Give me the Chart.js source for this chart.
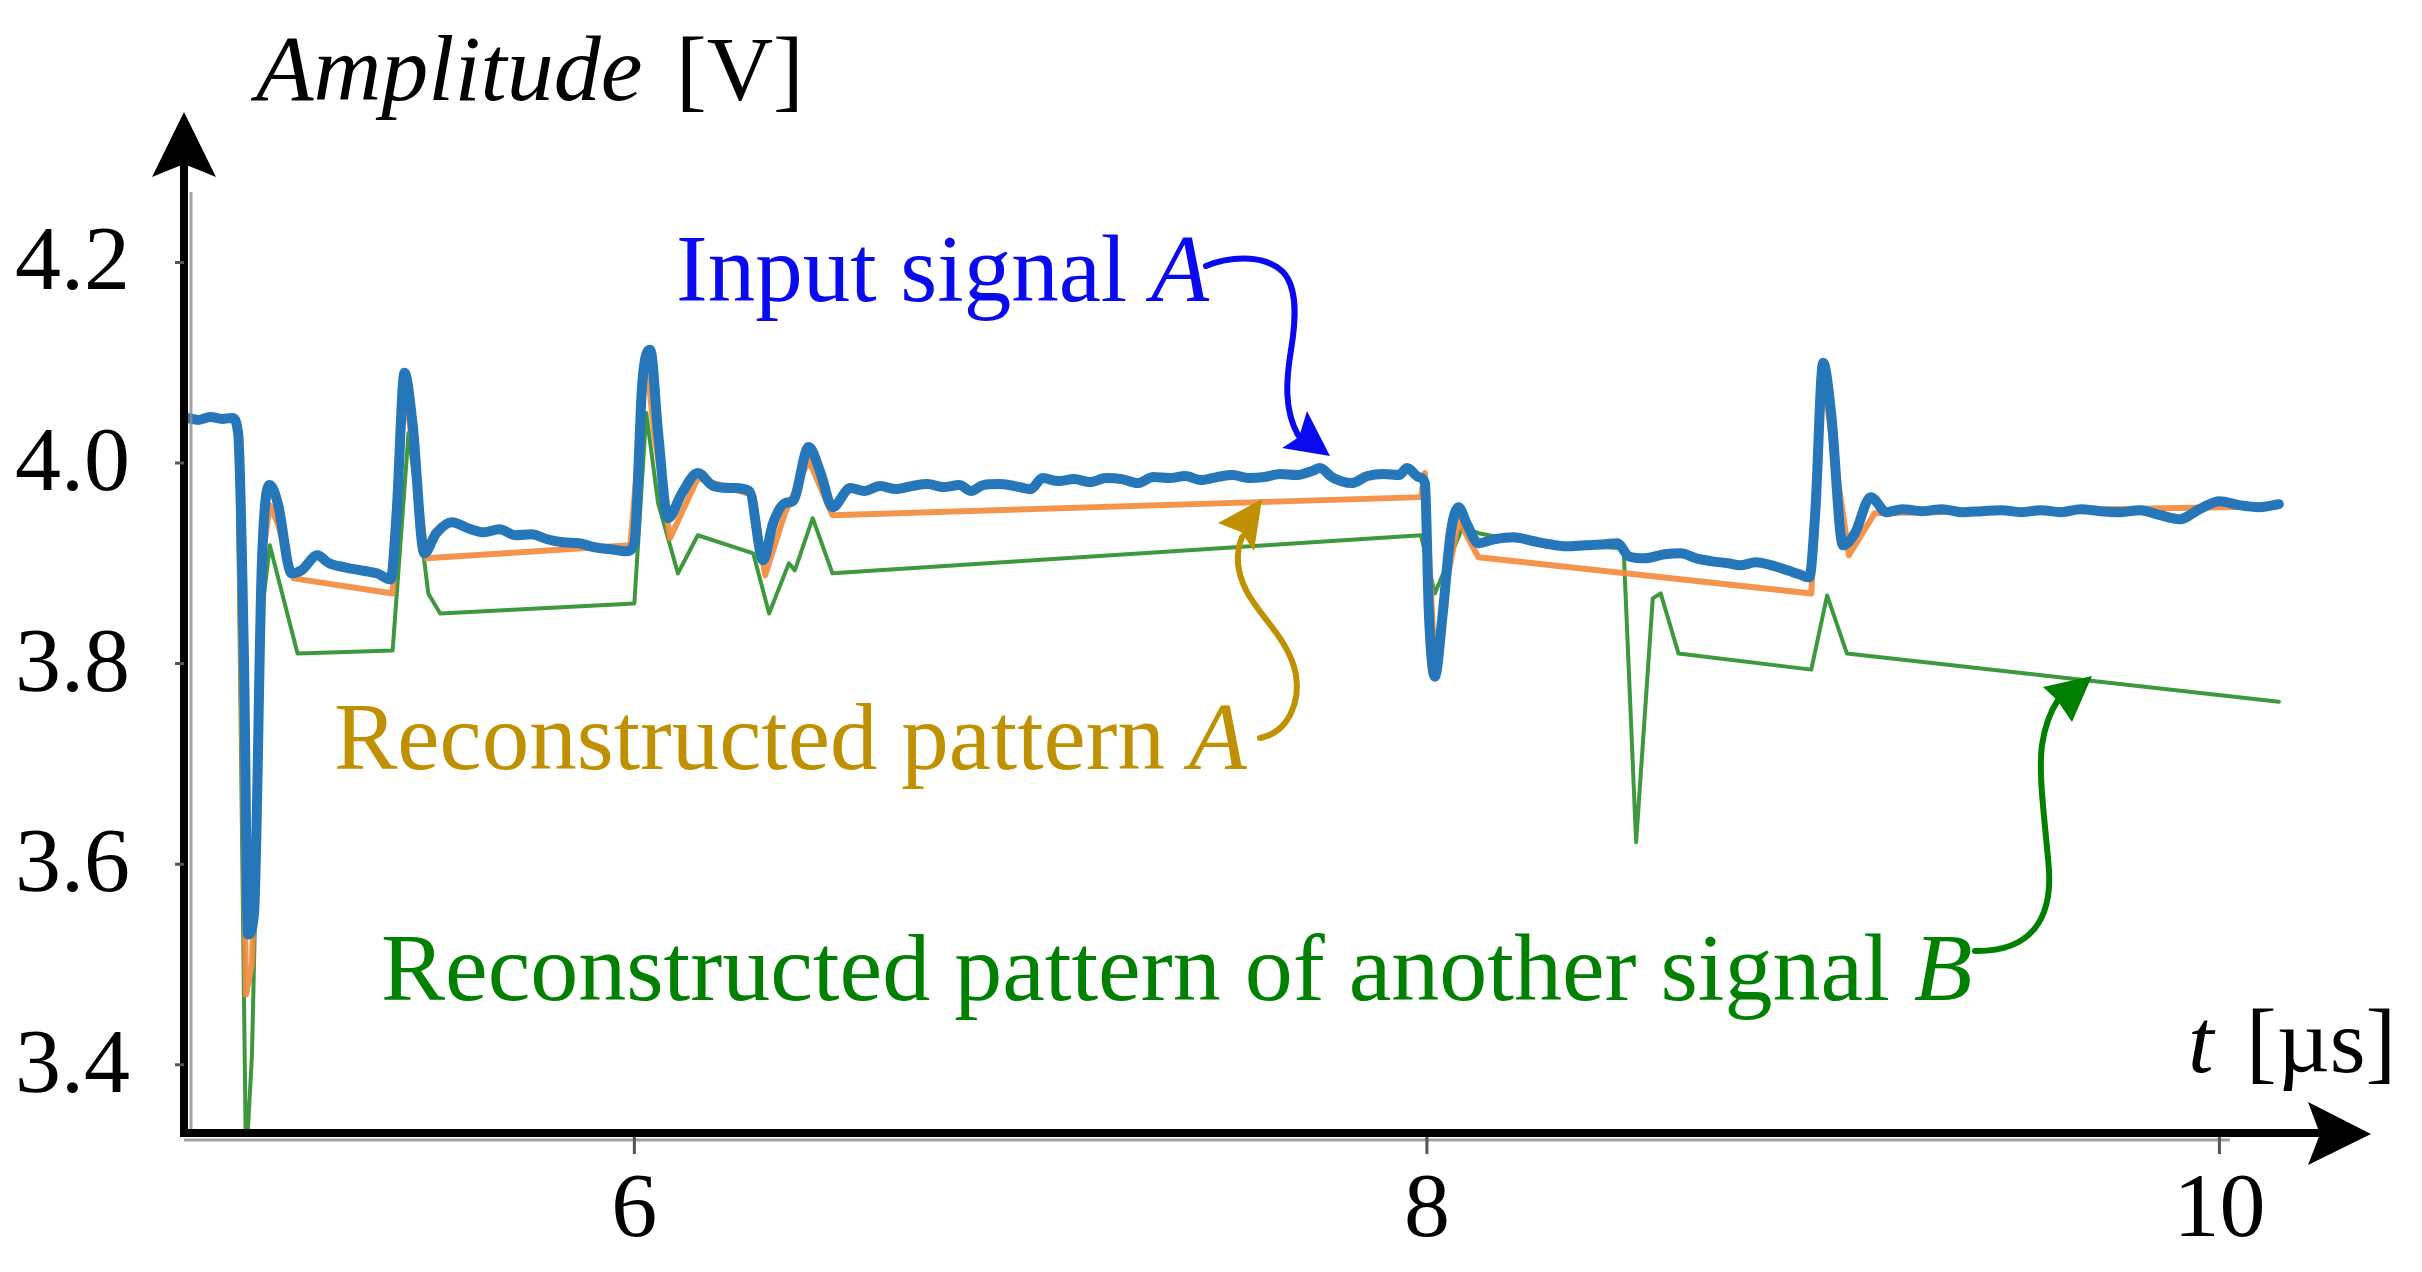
<!DOCTYPE html>
<html>
<head>
<meta charset="utf-8">
<script src="https://cdn.jsdelivr.net/npm/chart.js@4/dist/chart.umd.min.js"></script>
<style>
  html,body{margin:0;padding:0;background:#fff;}
  #wrap{width:2422px;height:1272px;}
</style>
</head>
<body>
<div id="wrap"><canvas id="chart" width="2422" height="1272"></canvas></div>
<script>
// === Datos (t en µs, amplitud en V) ===
const inputT = [4.87,4.90,4.93,4.96,4.985,5.00,5.015,5.025,5.04,5.06,5.08,5.10,5.135,5.16,5.20,5.23,5.27,5.31,5.35,5.385,
  5.40,5.42,5.44,5.47,5.50,5.54,5.58,5.62,5.66,5.70,5.74,5.78,5.82,5.86,5.90,5.94,5.98,6.00,6.02,6.04,
  6.06,6.085,6.12,6.16,6.20,6.25,6.29,6.325,6.35,6.38,6.40,6.44,6.47,6.50,6.545,6.58,6.62,6.66,6.70,6.74,
  6.78,6.82,6.85,6.88,6.92,6.96,7.00,7.03,7.07,7.11,7.15,7.19,7.23,7.27,7.31,7.35,7.39,7.43,7.47,7.51,
  7.55,7.59,7.63,7.67,7.71,7.73,7.76,7.81,7.85,7.89,7.93,7.95,7.98,7.995,8.005,8.02,8.04,8.06,8.08,8.10,
  8.13,8.17,8.22,8.27,8.31,8.35,8.40,8.45,8.48,8.51,8.55,8.60,8.64,8.68,8.72,8.76,8.79,8.83,8.87,8.91,
  8.94,8.965,8.98,9.00,9.02,9.05,9.08,9.12,9.16,9.20,9.25,9.30,9.35,9.40,9.45,9.50,9.55,9.60,9.65,9.70,
  9.75,9.80,9.85,9.90,9.95,10.00,10.05,10.10,10.15];
const inputV = [4.045,4.043,4.046,4.044,4.045,4.03,3.80,3.53,3.55,3.90,3.978,3.96,3.89,3.893,3.908,3.90,3.896,3.893,3.89,3.884,
  3.95,4.09,4.04,3.91,3.93,3.941,3.935,3.931,3.934,3.928,3.929,3.924,3.921,3.920,3.916,3.914,3.912,3.92,4.08,4.113,
  4.03,3.945,3.97,3.99,3.977,3.975,3.972,3.903,3.94,3.96,3.962,4.016,3.99,3.956,3.975,3.972,3.977,3.974,3.977,3.979,
  3.976,3.978,3.972,3.978,3.979,3.977,3.974,3.985,3.982,3.984,3.981,3.985,3.984,3.980,3.986,3.985,3.987,3.983,3.986,3.988,
  3.985,3.986,3.989,3.988,3.992,3.995,3.986,3.980,3.987,3.989,3.988,3.995,3.986,3.98,3.85,3.787,3.85,3.93,3.956,3.94,
  3.92,3.924,3.926,3.922,3.919,3.917,3.918,3.919,3.920,3.907,3.905,3.909,3.910,3.905,3.902,3.90,3.898,3.901,3.898,3.893,
  3.889,3.886,3.95,4.10,4.05,3.918,3.93,3.966,3.951,3.954,3.952,3.954,3.951,3.952,3.953,3.951,3.953,3.951,3.954,3.952,
  3.951,3.953,3.948,3.944,3.954,3.962,3.958,3.956,3.959];

const patternAT = [5.00,5.02,5.035,5.06,5.08,5.10,5.14,5.39,5.42,5.44,5.475,5.99,6.03,6.05,6.09,6.16,6.30,6.33,6.38,6.44,
  6.50,7.985,7.995,8.02,8.04,8.08,8.13,8.97,9.00,9.02,9.065,9.13,10.15];
const patternAV = [4.03,3.47,3.50,3.90,3.958,3.94,3.885,3.870,4.075,4.02,3.905,3.918,4.105,4.03,3.925,3.985,3.968,3.888,3.950,4.003,
  3.948,3.966,3.99,3.795,3.86,3.943,3.906,3.870,4.088,4.03,3.908,3.950,3.957];

const patternBT = [5.00,5.02,5.035,5.06,5.08,5.15,5.39,5.43,5.48,5.51,6.00,6.03,6.06,6.11,6.16,6.30,6.34,6.39,6.405,6.45,
  6.50,7.985,8.02,8.09,8.13,8.22,8.49,8.497,8.528,8.57,8.59,8.635,8.97,9.01,9.06,10.15];
const patternBV = [3.95,3.30,3.41,3.85,3.918,3.81,3.813,4.03,3.87,3.85,3.86,4.05,3.96,3.89,3.928,3.91,3.85,3.90,3.893,3.945,
  3.89,3.928,3.87,3.936,3.93,3.923,3.915,3.91,3.622,3.865,3.87,3.81,3.794,3.868,3.81,3.762];

const yTicks = [3.4,3.6,3.8,4.0,4.2];
const xTicks = [6,8,10];
const xRange = [4.866,10.38];
const yRange = [3.332,4.347];

// === Utilidades ===
function toPoints(ts, vs){
  return ts.map((t,i)=>({x:t, y:vs[i]}));
}

const serif = '"Liberation Serif", "Times New Roman", serif';

function arrowHead(ctx, tip, c1, notch, c2, color){
  ctx.fillStyle = color;
  ctx.beginPath();
  ctx.moveTo(tip[0],tip[1]);
  ctx.lineTo(c1[0],c1[1]);
  ctx.lineTo(notch[0],notch[1]);
  ctx.lineTo(c2[0],c2[1]);
  ctx.closePath();
  ctx.fill();
}

function curve(ctx, pts, color, w){
  // pts: inicio, luego grupos de 3 (bezier)
  ctx.strokeStyle = color;
  ctx.lineWidth = w;
  ctx.lineCap = 'round';
  ctx.beginPath();
  ctx.moveTo(pts[0][0],pts[0][1]);
  for(let i=1;i+2<pts.length;i+=3){
    ctx.bezierCurveTo(pts[i][0],pts[i][1],pts[i+1][0],pts[i+1][1],pts[i+2][0],pts[i+2][1]);
  }
  ctx.stroke();
}

function mixedText(ctx, parts, x, y, size, color){
  ctx.fillStyle = color;
  ctx.textBaseline = 'alphabetic';
  ctx.textAlign = 'left';
  let cx = x;
  parts.forEach(p=>{
    ctx.font = (p.italic ? 'italic ' : '') + size + 'px ' + serif;
    ctx.fillText(p.text, cx, y);
    cx += ctx.measureText(p.text).width;
  });
}

// === Plugin: ejes con flechas, ticks y anotaciones ===
const decor = {
  id:'decor',
  afterDraw(chart){
    const ctx = chart.ctx;
    const xs = chart.scales.x, ys = chart.scales.y;
    const ax = Math.round(xs.getPixelForValue(xRange[0])) - 1;
    const ay = Math.round(ys.getPixelForValue(yRange[0]));
    ctx.save();

    // linea gris del marco original
    ctx.strokeStyle = 'rgba(140,140,140,0.8)';
    ctx.lineWidth = 3;
    ctx.beginPath();
    ctx.moveTo(ax+7, 192); ctx.lineTo(ax+7, ay);
    ctx.moveTo(ax, ay+7); ctx.lineTo(2230, ay+7);
    ctx.stroke();

    // ejes
    ctx.strokeStyle = '#000';
    ctx.lineWidth = 8;
    ctx.lineCap = 'butt';
    ctx.beginPath();
    ctx.moveTo(ax, ay+4); ctx.lineTo(ax, 160);
    ctx.moveTo(ax-4, ay); ctx.lineTo(2325, ay);
    ctx.stroke();
    arrowHead(ctx, [ax,112], [ax-32,177], [ax,164], [ax+32,177], '#000');
    arrowHead(ctx, [2371,ay+1], [2308,ay-31], [2320,ay+1], [2308,ay+32], '#000');

    // ticks
    ctx.strokeStyle = '#555';
    ctx.lineWidth = 3;
    ctx.beginPath();
    yTicks.forEach(v=>{
      const py = ys.getPixelForValue(v);
      ctx.moveTo(ax-9, py); ctx.lineTo(ax, py);
    });
    xTicks.forEach(v=>{
      const px = xs.getPixelForValue(v);
      ctx.moveTo(px, ay+4); ctx.lineTo(px, ay+21);
    });
    ctx.stroke();

    // etiquetas
    ctx.fillStyle = '#000';
    ctx.font = '92px ' + serif;
    ctx.textAlign = 'right';
    ctx.textBaseline = 'alphabetic';
    yTicks.forEach(v=>{
      ctx.fillText(v.toFixed(1), 130, ys.getPixelForValue(v) + 27);
    });
    ctx.textAlign = 'center';
    xTicks.forEach(v=>{
      ctx.fillText(String(v), xs.getPixelForValue(v), 1236);
    });

    // titulos de ejes
    mixedText(ctx, [{text:'Amplitude', italic:true}], 256, 100, 94, '#000');
    mixedText(ctx, [{text:'[V]'}], 676, 100, 92, '#000');
    mixedText(ctx, [{text:'t', italic:true}], 2188, 1072, 92, '#000');
    mixedText(ctx, [{text:'[µs]'}], 2246, 1072, 92, '#000');

    // anotaciones
    const blue = '#0a0af0', gold = '#bf9000', green = '#008000';
    mixedText(ctx, [{text:'Input signal '},{text:'A', italic:true}], 676, 301, 95, blue);
    mixedText(ctx, [{text:'Reconstructed pattern '},{text:'A', italic:true}], 334, 769, 95, gold);
    mixedText(ctx, [{text:'Reconstructed pattern of another signal '},{text:'B', italic:true}], 381, 1000, 96, green);

    // flecha azul
    curve(ctx, [[1206,266],[1225,258],[1262,252],[1283,272],
                [1298,288],[1296,320],[1291,350],
                [1286,380],[1284,410],[1298,435]], blue, 6);
    arrowHead(ctx, [1330,456], [1282,448], [1299,437], [1307,411], blue);

    // flecha dorada
    curve(ctx, [[1260,738],[1290,732],[1300,700],[1296,675],
                [1290,640],[1258,615],[1246,590],
                [1236,570],[1236,552],[1242,537]], gold, 6);
    arrowHead(ctx, [1262,499], [1218,523], [1241,532], [1254,551], gold);

    // flecha verde
    curve(ctx, [[1975,951],[2030,952],[2052,920],[2049,870],
                [2045,820],[2038,775],[2042,745],
                [2045,725],[2050,712],[2058,700]], green, 6);
    arrowHead(ctx, [2092,676], [2043,687], [2057,700], [2072,722], green);

    ctx.restore();
  }
};

const lineStyle = {showLine:true, pointRadius:0, tension:0, borderJoinStyle:'round', borderCapStyle:'round', fill:false};

new Chart(document.getElementById('chart'), {
  type:'scatter',
  data:{
    datasets:[
      Object.assign({}, lineStyle, {label:'Input signal A', data:toPoints(inputT,inputV), borderColor:'rgb(38,118,186)', borderWidth:10, cubicInterpolationMode:'monotone'}),
      Object.assign({}, lineStyle, {label:'Reconstructed pattern A', data:toPoints(patternAT,patternAV), borderColor:'rgba(243,139,62,0.92)', borderWidth:6}),
      Object.assign({}, lineStyle, {label:'Reconstructed pattern of another signal B', data:toPoints(patternBT,patternBV), borderColor:'rgb(62,152,62)', borderWidth:4})
    ]
  },
  options:{
    responsive:false,
    animation:false,
    devicePixelRatio:1,
    layout:{padding:{left:185, right:52, top:115, bottom:139}},
    plugins:{legend:{display:false}, tooltip:{enabled:false}},
    scales:{
      x:{type:'linear', display:false, min:xRange[0], max:xRange[1]},
      y:{type:'linear', display:false, min:yRange[0], max:yRange[1]}
    }
  },
  plugins:[decor]
});
</script>
</body>
</html>
